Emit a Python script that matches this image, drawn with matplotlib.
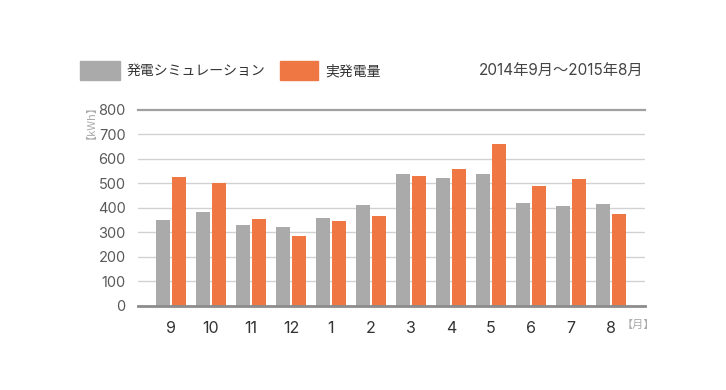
import matplotlib
matplotlib.use("Agg")
import matplotlib.pyplot as plt
from matplotlib.patches import Rectangle
import numpy as np

months = ["9", "10", "11", "12", "1", "2", "3", "4", "5", "6", "7", "8"]
simulation = [350, 382, 329, 321, 358, 411, 536, 522, 536, 420, 407, 415]
actual = [525, 500, 354, 284, 346, 366, 530, 558, 662, 488, 517, 374]
yticks = [0, 100, 200, 300, 400, 500, 600, 700, 800]

GRAY = "#aaaaaa"
ORANGE = "#ef7744"
NUM = ["Inter", "Noto Sans CJK JP", "DejaVu Sans"]
JP = ["Noto Sans CJK JP", "DejaVu Sans"]

fig = plt.figure(figsize=(7.26, 3.90), dpi=100)
W, H = 726, 390
ax = fig.add_axes([138 / W, 1 - 305.7 / H, (645 - 138) / W, (305.7 - 109.7) / H])

x = np.arange(len(months))
ax.bar(x - 0.2, simulation, width=0.35, color=GRAY, zorder=2)
ax.bar(x + 0.2, actual, width=0.35, color=ORANGE, zorder=2)

for v in yticks[1:-1]:
    ax.axhline(v, color="#d2d2d2", lw=1.0, zorder=1)
ax.axhline(800, color="#a0a0a0", lw=1.6, zorder=1, clip_on=False)
ax.axhline(0, color="#8c8c8c", lw=2.0, zorder=3, clip_on=False)

ax.set_xlim(-0.825, 11.85)
ax.set_ylim(0, 800)
for s in ax.spines.values():
    s.set_visible(False)
ax.set_yticks(yticks)
ax.set_yticklabels([str(v) for v in yticks], family=NUM, fontsize=10.5, color="#5a5a5a")
ax.set_xticks(x)
ax.set_xticklabels(months, family=NUM, fontsize=11.5, color="#333333")
ax.tick_params(axis="both", length=0)
ax.tick_params(axis="y", pad=9)
ax.tick_params(axis="x", pad=11)

# unit labels
fig.text(86 / W, 1 - 117 / H, "【kWh】", rotation=90, ha="center", va="center",
         family=JP, fontsize=8, color="#aaaaaa")
fig.text(622 / W, 1 - 325 / H, "【月】", ha="left", va="center",
         family=JP, fontsize=8, color="#aaaaaa")

# legend
fig.patches.append(Rectangle((80 / W, 1 - 80 / H), 40 / W, 19 / H, color=GRAY,
                             transform=fig.transFigure, figure=fig))
fig.text(127 / W, 1 - 71 / H, "発電シミュレーション", ha="left", va="center",
         family=JP, fontsize=10, color="#333333")
fig.patches.append(Rectangle((280 / W, 1 - 80 / H), 38 / W, 19 / H, color=ORANGE,
                             transform=fig.transFigure, figure=fig))
fig.text(325 / W, 1 - 71 / H, "実発電量", ha="left", va="center",
         family=JP, fontsize=10, color="#333333")
fig.text(643 / W, 1 - 70 / H, "2014年9月～2015年8月", ha="right", va="center",
         family=NUM, fontsize=11, color="#444444")

fig.savefig("out.png", dpi=100, facecolor="white")
